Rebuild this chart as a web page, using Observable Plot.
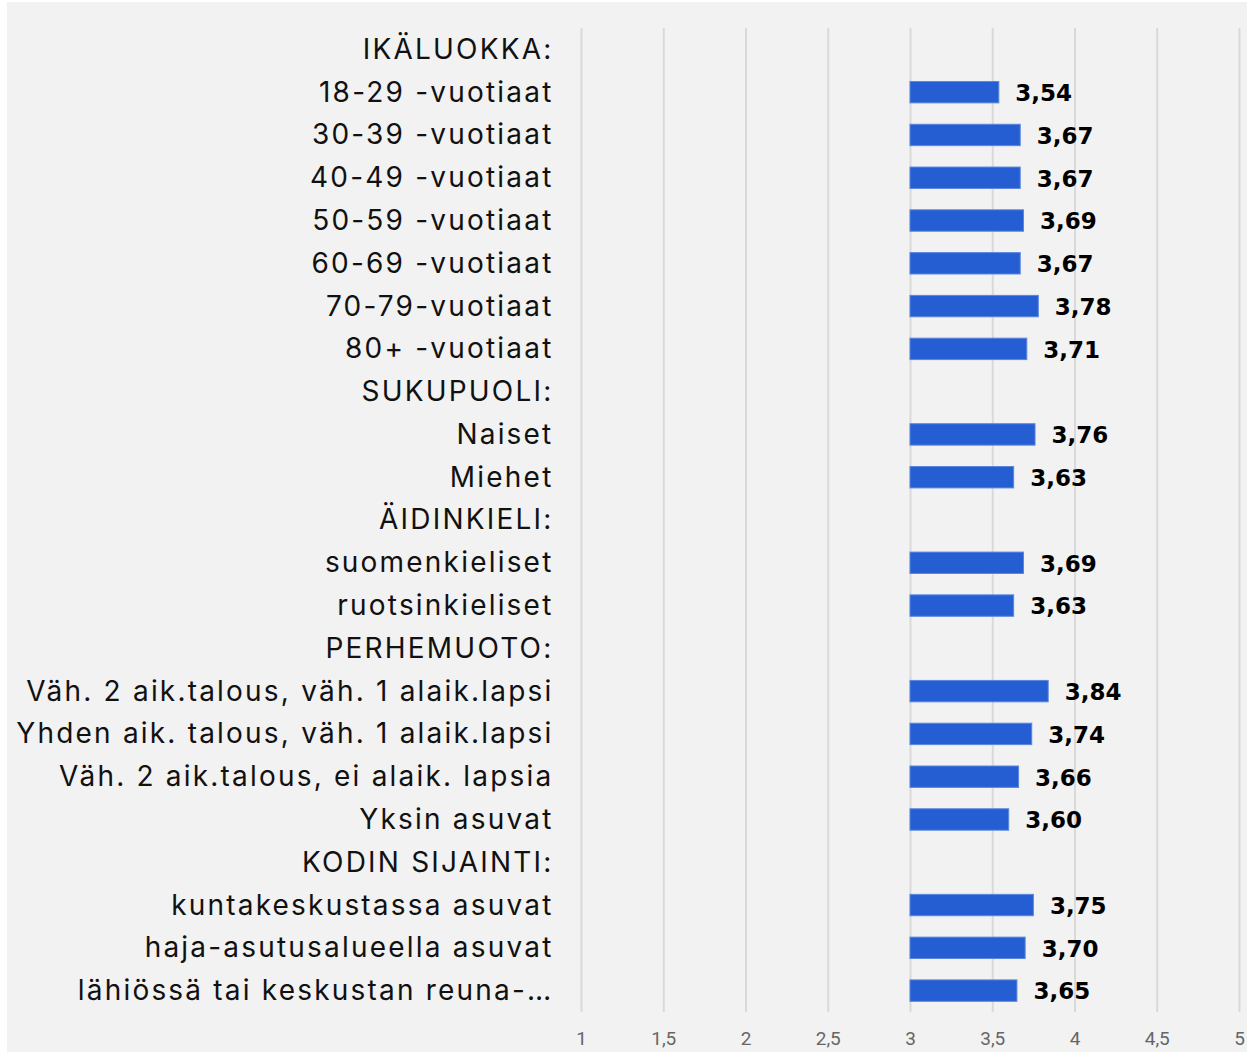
<!DOCTYPE html>
<html>
<head>
<meta charset="utf-8">
<script src="https://cdn.jsdelivr.net/npm/d3@7"></script>
<script src="https://cdn.jsdelivr.net/npm/@observablehq/plot@0.6"></script>
<style>
  html, body { margin: 0; padding: 0; background: #ffffff; }
  #frame { position: absolute; left: 7px; top: 2px; width: 1240px; height: 1050px; background: #f2f2f2; }
  .ylab text { letter-spacing: 2.2px; }
</style>
</head>
<body>
<div id="frame"></div>
<script>
const categories = [
  "IKÄLUOKKA:",
  "18-29 -vuotiaat",
  "30-39 -vuotiaat",
  "40-49 -vuotiaat",
  "50-59 -vuotiaat",
  "60-69 -vuotiaat",
  "70-79-vuotiaat",
  "80+ -vuotiaat",
  "SUKUPUOLI:",
  "Naiset",
  "Miehet",
  "ÄIDINKIELI:",
  "suomenkieliset",
  "ruotsinkieliset",
  "PERHEMUOTO:",
  "Väh. 2 aik.talous, väh. 1 alaik.lapsi",
  "Yhden aik. talous, väh. 1 alaik.lapsi",
  "Väh. 2 aik.talous, ei alaik. lapsia",
  "Yksin asuvat",
  "KODIN SIJAINTI:",
  "kuntakeskustassa asuvat",
  "haja-asutusalueella asuvat",
  "lähiössä tai keskustan reuna-…"
];
const values = [
  null, 3.54, 3.67, 3.67, 3.69, 3.67, 3.78, 3.71,
  null, 3.76, 3.63,
  null, 3.69, 3.63,
  null, 3.84, 3.74, 3.66, 3.60,
  null, 3.75, 3.70, 3.65
];
const xTicks = [1, 1.5, 2, 2.5, 3, 3.5, 4, 4.5, 5];
const baseValue = 3;

const data = categories.map((c, i) => ({category: c, value: values[i]}));
const bars = data.filter(d => d.value != null);
const fmt = v => v.toFixed(2).replace(".", ",");

const chart = Plot.plot({
  width: 1240,
  height: 1050,
  marginLeft: 574,
  marginRight: 8,
  marginTop: 26,
  marginBottom: 40,
  style: {background: "transparent", fontFamily: "Inter, 'Noto Sans', sans-serif"},
  x: {domain: [1, 5], ticks: xTicks, tickFormat: d => String(d).replace(".", ","), label: null},
  y: {domain: categories, paddingInner: 0.5, paddingOuter: 0.25, round: false, label: null},
  marks: [
    Plot.gridX(xTicks, {stroke: "#d9d9d9", strokeWidth: 2, strokeOpacity: 1}),
    Plot.axisX({ticks: xTicks, tickSize: 0, tickPadding: 19, fontSize: 19, color: "#666666",
      tickFormat: d => String(d).replace(".", ","), label: null, fontFamily: "Roboto, sans-serif"}),
    Plot.axisY({tickSize: 0, tickPadding: 28, fontSize: 28, color: "#111111", label: null, className: "ylab"}),
    Plot.barX(bars, {x1: () => baseValue, x2: "value", y: "category", fill: "#255ed2", stroke: "#5a86dd", strokeWidth: 1}),
    Plot.text(bars, {x: "value", y: "category", text: d => fmt(d.value), textAnchor: "start", dx: 16, dy: 1,
      fontSize: 23, fontWeight: "bold", fill: "#000000", fontFamily: "'DejaVu Sans', sans-serif"})
  ]
});
document.getElementById("frame").appendChild(chart);
</script>
</body>
</html>
